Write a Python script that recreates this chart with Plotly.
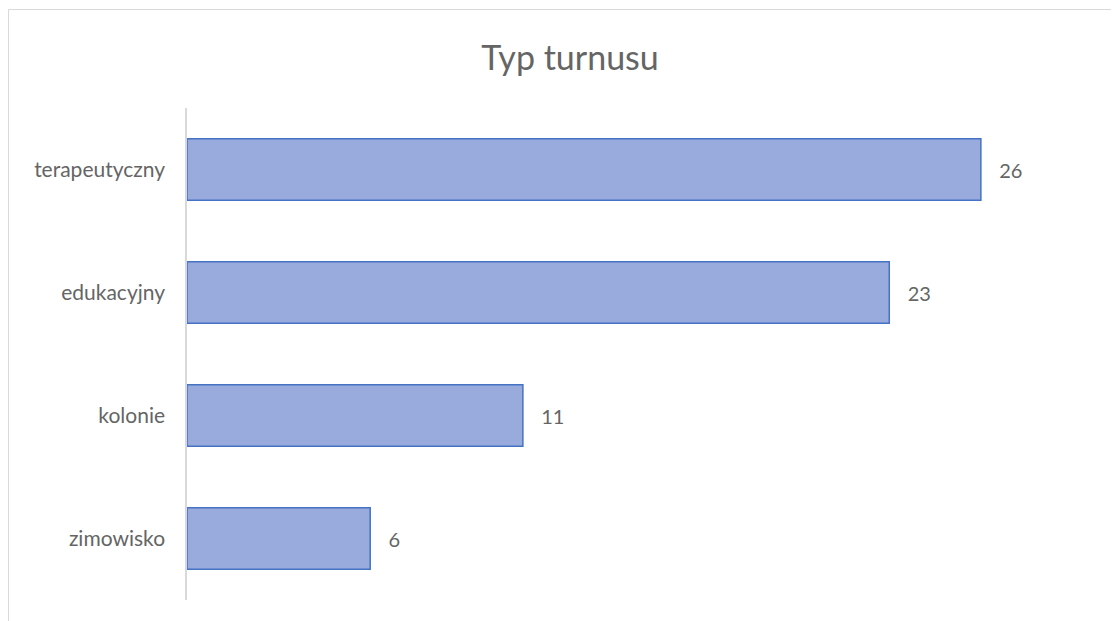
import plotly.graph_objects as go

categories = ["zimowisko", "kolonie", "edukacyjny", "terapeutyczny"]
counts = [6, 11, 23, 26]
title_text = "Typ turnusu"

W, H = 1119, 621
# the page body adds an 8px margin, so positions are shifted back by 8
off = 8
left, right, top, bottom = 187 - off, 1103 - off, 108 - off, 600 - off
txt_color = "#656565"

fig = go.Figure()
fig.add_trace(go.Bar(
    x=counts,
    y=categories,
    orientation="h",
    width=0.5,
    marker=dict(color="#98ABDC", line=dict(color="#4472C4", width=1.5)),
    text=["   " + str(v) for v in counts],
    textposition="outside",
    textfont=dict(family="Lato, Open Sans, sans-serif", size=20, color=txt_color),
    cliponaxis=False,
    hoverinfo="x+y",
))

pw = right - left
ph = bottom - top
# outer chart frame (Excel style)
fig.add_shape(type="rect", xref="paper", yref="paper",
              x0=(0.5 - left) / pw, x1=(W + 20 - left) / pw,
              y0=(bottom - (H + 20)) / ph, y1=(bottom - 1.5) / ph,
              line=dict(color="#D9D9D9", width=1), fillcolor="rgba(0,0,0,0)",
              layer="below")

fig.update_layout(
    width=W, height=H,
    margin=dict(l=left, r=W - right, t=top, b=H - bottom),
    paper_bgcolor="white", plot_bgcolor="white",
    title=dict(text=title_text, x=(570 - off) / W, xref="container", xanchor="center",
               y=1 - (58 - off) / H, yref="container", yanchor="middle",
               font=dict(family="Lato, Open Sans, sans-serif", size=34, color=txt_color)),
    xaxis=dict(range=[0, 30], visible=False, showgrid=False, zeroline=False),
    yaxis=dict(showline=True, linecolor="#D9D9D9", linewidth=1.5, ticks="",
               ticklabelstandoff=16,
               tickfont=dict(family="Lato, Open Sans, sans-serif", size=21, color=txt_color),
               showgrid=False),
    showlegend=False,
    bargap=0.5,
)

fig.write_html("out.html")
